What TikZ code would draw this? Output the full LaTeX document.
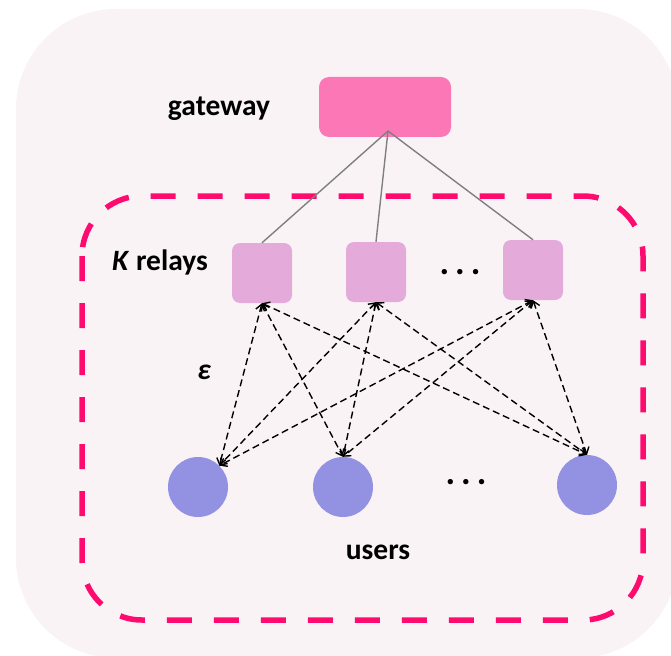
\documentclass[tikz,border=0pt]{standalone}
\usepackage{fontspec}
\setmainfont{Carlito}
\usetikzlibrary{arrows.meta}
\definecolor{bgc}{RGB}{249,243,246}
\definecolor{boxc}{RGB}{255,10,110}
\definecolor{gwc}{RGB}{252,119,182}
\definecolor{relayc}{RGB}{227,170,218}
\definecolor{userc}{RGB}{147,145,225}
\definecolor{linkc}{RGB}{128,128,128}
\begin{document}
\begin{tikzpicture}[x=1pt,y=-1pt,
  lbl/.style={font=\fontsize{29.5}{32}\selectfont\bfseries, inner sep=0pt},
  dotlbl/.style={font=\fontsize{36}{40}\selectfont\bfseries, inner sep=0pt},
  gwbox/.style={fill=gwc, rounded corners=10pt, minimum width=132pt, minimum height=60pt, inner sep=0pt},
  relaybox/.style={fill=relayc, rounded corners=8pt, minimum width=60pt, minimum height=60pt, inner sep=0pt},
  usr/.style={circle, fill=userc, minimum size=60pt, inner sep=0pt},
  link/.style={draw=linkc, line width=1.4pt},
  chan/.style={draw=black, line width=1.4pt, dash pattern=on 7pt off 4pt,
    {Straight Barb[length=6pt,width=9pt]}-{Straight Barb[length=6pt,width=9pt]}},
  cluster/.style={draw=boxc, line width=5.5pt, dash pattern=on 25pt off 22pt, rounded corners=60pt}
]
\useasboundingbox (0,0) rectangle (671,655);
\fill[bgc, rounded corners=100pt] (16,9) rectangle (678,658);
\draw[cluster] (82,196) rectangle (643,620);

\node[gwbox] (gw) at (385,107) {};
\coordinate (hub) at (388,131);
\node[lbl] (gwlabel) at (219,109) {gateway};

\node[relaybox] (r1) at (262,273) {};
\node[relaybox] (r2) at (376,272) {};
\node[relaybox] (r3) at (533,270) {};
\node[lbl] (rlabel) at (160,262) {\textit{K} relays};
\node[dotlbl] (rdots) at (460,272) {.\,.\,.};

\node[usr] (u1) at (198,487) {};
\node[usr] (u2) at (343,487) {};
\node[usr] (u3) at (587,485) {};
\node[dotlbl] (udots) at (466,482) {.\,.\,.};
\node[lbl] (ulabel) at (378,552) {users};
\node[lbl, font=\fontsize{29.5}{32}\selectfont\bfseries\itshape] (eps) at (204,372) {ε};

\draw[link] (hub) -- (r1.north);
\draw[link] (hub) -- (r2.north);
\draw[link] (hub) -- (r3.north);

\foreach \r in {r1,r2,r3}{
  \draw[chan] (\r.south) -- (u1.north east);
  \draw[chan] (\r.south) -- (u2.north);
  \draw[chan] (\r.south) -- (u3.north);
}
\end{tikzpicture}
\end{document}
